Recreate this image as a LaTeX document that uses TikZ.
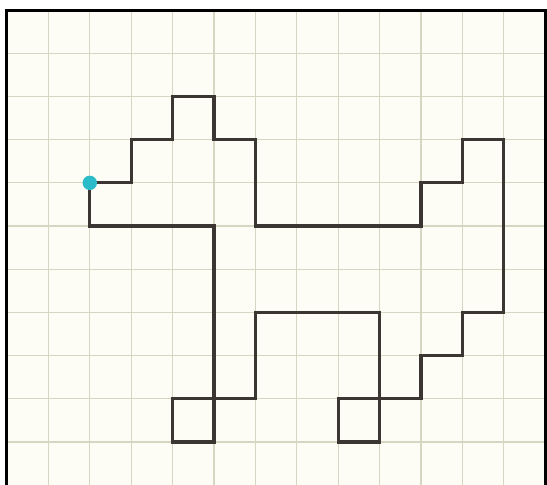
\documentclass[tikz,border=0pt]{standalone}
\definecolor{papier}{HTML}{FDFDF6}
\definecolor{rasterlijn}{HTML}{D6D7C3}
\definecolor{pad}{HTML}{3B3632}
\definecolor{stip}{HTML}{2BBBC9}
\begin{document}
\begin{tikzpicture}[x=20.7pt, y=21.6pt,
		gridline/.style={draw=rasterlijn, line width=0.6pt, xstep=20.7pt, ystep=21.6pt},
		frameline/.style={draw=black, line width=1.5pt},
		route/.style={draw=pad, line width=1.6pt, line join=miter}]
			\useasboundingbox (-0.169,0.023) rectangle (13.043,11.233);
			% papier en raster
			\fill[papier] (0,-0.2) rectangle (13,11);
			\draw[gridline] (0,-0.2) grid (13,11);
			\draw[frameline] (0,-0.2) -- (0,11) -- (13,11) -- (13,-0.2);
			
			% figuur
			\draw[route] (2,7) -- (3,7) -- (3,8) -- (4,8) -- (4,9) -- (5,9) -- (5,8) -- (6,8) -- (6,6)
				-- (10,6) -- (10,7) -- (11,7) -- (11,8) -- (12,8) -- (12,4) -- (11,4) -- (11,3)
				-- (10,3) -- (10,2) -- (9,2) -- (9,4) -- (6,4) -- (6,2) -- (5,2) -- (5,6) -- (2,6) -- cycle;
			\draw[route] (8,1) rectangle (9,2);
			\draw[route] (4,1) rectangle (5,2);
			
			% beginpunt
			\fill[stip] (2,7) circle (3.6pt);
		\end{tikzpicture}
\end{document}
